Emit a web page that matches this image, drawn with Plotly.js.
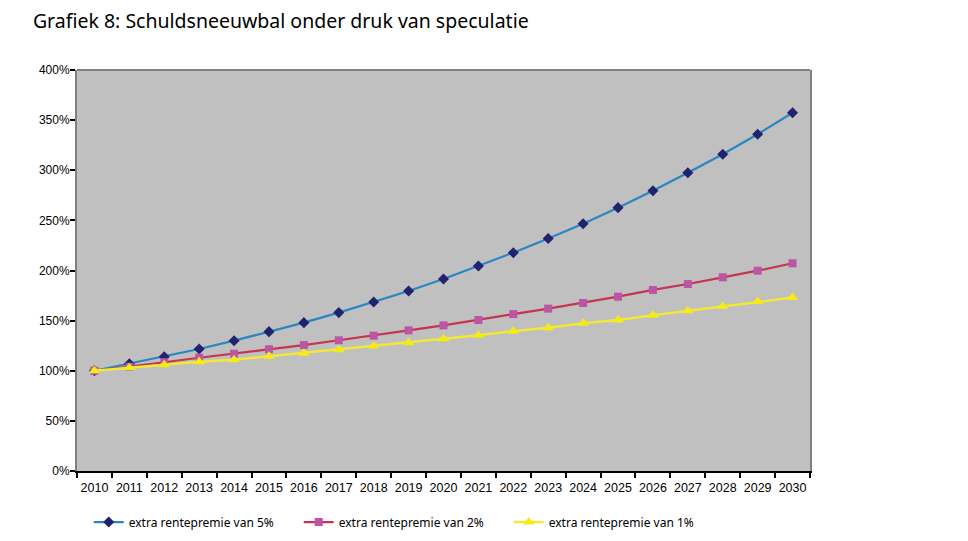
<!DOCTYPE html>
<html>
<head>
<meta charset="utf-8">
<script src="https://cdn.plot.ly/plotly-3.0.1.min.js"></script>
<style>html,body{margin:0;padding:0;background:#fff;}#chart{width:968px;height:541px;}</style>
</head>
<body>
<div id="chart"></div>
<script>
const years = ["2010","2011","2012","2013","2014","2015","2016","2017","2018","2019","2020","2021","2022","2023","2024","2025","2026","2027","2028","2029","2030"];
const premie5 = [100,107,114,121.7,130,139,148,158,168.6,179.6,191.5,204.5,217.8,232,246.7,262.7,279.6,297.6,315.9,335.9,357.4];
const premie2 = [100,104,108.5,113,117,121.4,125.6,130.4,135,140.3,145.3,150.6,156.5,162,167.6,173.9,180.6,186.5,193.2,199.8,207.2];
const premie1 = [100,103,106,109,111,114.5,117.5,121,124.7,128,132,135.5,139.5,143,147.3,150.6,155.3,159.8,164.4,169,173];
const seriesNames = ["extra rentepremie van 5%","extra rentepremie van 2%","extra rentepremie van 1%"];
const yTickVals = [0,50,100,150,200,250,300,350,400];
const yTickText = ["0%","50%","100%","150%","200%","250%","300%","350%","400%"];
const chartTitle = "Grafiek 8: Schuldsneeuwbal onder druk van speculatie";

const traces = [
  {x: years, y: premie5, name: seriesNames[0], type: "scatter", mode: "lines+markers",
   line: {color: "#2a86c2", width: 2.2}, marker: {symbol: "diamond", size: 8.5, color: "#22236e"}},
  {x: years, y: premie2, name: seriesNames[1], type: "scatter", mode: "lines+markers",
   line: {color: "#c7344f", width: 2.2}, marker: {symbol: "square", size: 8, color: "#bb55a6"}},
  {x: years, y: premie1, name: seriesNames[2], type: "scatter", mode: "lines+markers",
   line: {color: "#f2e838", width: 2.5}, marker: {symbol: "triangle-up", size: 10, color: "#f7ec12"}}
];

const layout = {
  width: 968, height: 541,
  margin: {l: 77, r: 158, t: 70, b: 70, autoexpand: false},
  paper_bgcolor: "#ffffff",
  plot_bgcolor: "#c0c0c0",
  title: {text: chartTitle, x: 0.034, xanchor: "left", xref: "container", y: 0.961, yanchor: "middle", yref: "container",
          font: {family: "Noto Sans, Liberation Sans, sans-serif", size: 19.5, color: "#000"}},
  xaxis: {type: "category", range: [-0.5, 20.5], showgrid: false, zeroline: false, automargin: false,
          tickson: "boundaries", ticks: "outside", ticklen: 5, tickwidth: 1.5, tickcolor: "#000", tickangle: 0,
          ticklabelstandoff: 4,
          showline: true, linecolor: "#000", linewidth: 1.5,
          tickfont: {family: "Liberation Sans, Arial, sans-serif", size: 12.5, color: "#000"}},
  yaxis: {range: [0, 400], tickvals: yTickVals, ticktext: yTickText, showgrid: false, zeroline: false, automargin: false,
          ticks: "outside", ticklen: 5, tickwidth: 1.5, tickcolor: "#000", ticklabelstandoff: -2,
          showline: true, linecolor: "#808080", linewidth: 2, mirror: true,
          tickfont: {family: "Liberation Sans, Arial, sans-serif", size: 12, color: "#000"}},
  shapes: [{type: "line", xref: "paper", yref: "paper", x0: 0, x1: 1, y0: 1, y1: 1,
            line: {color: "#808080", width: 2}}],
  showlegend: true,
  legend: {orientation: "h", x: 0.016, xanchor: "left", xref: "paper", y: 0.035, yanchor: "middle", yref: "container",
           entrywidth: 165, entrywidthmode: "pixels",
           font: {family: "Noto Sans, Liberation Sans, sans-serif", size: 12, color: "#000"},
           bgcolor: "rgba(0,0,0,0)"}
};

Plotly.newPlot("chart", traces, layout, {displayModeBar: false});
</script>
</body>
</html>
